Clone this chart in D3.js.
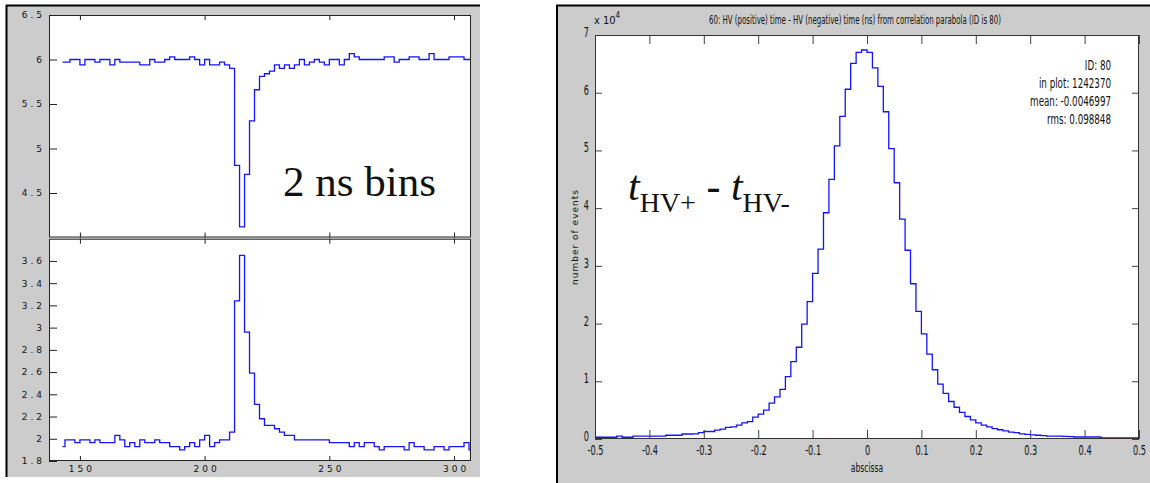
<!DOCTYPE html>
<html>
<head>
<meta charset="utf-8">
<script src="https://cdn.jsdelivr.net/npm/d3@7"></script>
<style>
  body { margin: 0; background: #fff; }
  svg { display: block; }
  .lt { font-family: "DejaVu Sans", sans-serif; font-size: 9px; letter-spacing: 3px; fill: #111; }
  .nt { font-family: "Liberation Sans Narrow", "DejaVu Sans Condensed", "Arial Narrow", sans-serif; font-stretch: condensed; fill: #111; }
</style>
</head>
<body>
<div id="chart"></div>
<script>
// ---- left figure: two stacked 2 ns histograms (bin left edges 143,144,146,...,306) ----
const leftTopValues = [
  5.97, 5.97, 6.00, 6.00, 5.94, 6.00, 6.00, 5.97, 6.00, 6.00,
  5.94, 6.00, 5.97, 5.97, 5.97, 5.97, 5.94, 5.94, 6.00, 5.97,
  5.97, 6.00, 6.03, 6.00, 6.00, 6.00, 6.03, 6.00, 5.94, 6.00,
  5.94, 5.94, 5.97, 5.94, 5.90, 4.81, 4.12, 4.71, 5.31, 5.66,
  5.81, 5.84, 5.87, 5.94, 5.90, 5.94, 5.90, 5.94, 6.00, 5.94,
  5.97, 6.00, 5.97, 5.94, 6.00, 6.00, 5.94, 6.00, 6.065, 6.03,
  6.00, 6.00, 6.00, 6.00, 6.00, 6.03, 6.03, 5.97, 6.00, 6.00,
  6.03, 6.03, 6.00, 6.00, 6.065, 6.00, 6.00, 6.00, 6.03, 6.03,
  6.03, 6.00, 6.00
];
const leftBottomValues = [
  1.93, 1.99, 1.99, 1.965, 1.99, 1.99, 1.965, 1.99, 1.965, 1.965,
  1.965, 2.03, 1.99, 1.93, 1.965, 1.93, 1.99, 1.965, 1.965, 1.99,
  1.965, 1.965, 1.93, 1.93, 1.90, 1.93, 1.965, 1.93, 1.99, 2.03,
  1.93, 1.965, 1.99, 1.99, 2.06, 3.24, 3.65, 2.96, 2.59, 2.31,
  2.18, 2.12, 2.12, 2.09, 2.06, 2.03, 2.03, 1.99, 1.99, 1.99,
  1.99, 1.99, 1.99, 1.99, 1.965, 1.965, 1.965, 1.965, 1.93, 1.965,
  1.93, 1.965, 1.965, 1.93, 1.90, 1.93, 1.93, 1.93, 1.93, 1.90,
  1.965, 1.93, 1.93, 1.90, 1.90, 1.93, 1.93, 1.90, 1.93, 1.93,
  1.93, 1.965, 1.90
];
const leftXTicks = [150, 200, 250, 300];
const leftTopYTicks = [4.5, 5, 5.5, 6, 6.5];
const leftBottomYTicks = [1.8, 2, 2.2, 2.4, 2.6, 2.8, 3, 3.2, 3.4, 3.6];
const leftLabel = "2 ns bins";

// ---- right figure: t(HV+) - t(HV-) histogram, counts in units of 1e4, 0.01 bins from -0.5 ----
const rightValues = [
  0.03, 0.03, 0.03, 0.03, 0.05, 0.03, 0.03, 0.05, 0.05, 0.05,
  0.05, 0.05, 0.05, 0.065, 0.065, 0.065, 0.087, 0.087, 0.09, 0.11,
  0.13, 0.13, 0.155, 0.17, 0.20, 0.21, 0.24, 0.28, 0.30, 0.38,
  0.43, 0.50, 0.62, 0.73, 0.86, 1.08, 1.34, 1.59, 1.99, 2.38,
  2.87, 3.29, 3.92, 4.50, 5.08, 5.59, 6.06, 6.51, 6.70, 6.74,
  6.70, 6.43, 6.11, 5.67, 5.03, 4.44, 3.81, 3.27, 2.69, 2.21,
  1.82, 1.47, 1.20, 0.95, 0.79, 0.65, 0.55, 0.46, 0.39, 0.33,
  0.28, 0.24, 0.21, 0.18, 0.16, 0.14, 0.12, 0.11, 0.09, 0.08,
  0.07, 0.065, 0.06, 0.05, 0.05, 0.05, 0.045, 0.04, 0.035, 0.035,
  0.035, 0.035, 0.035, 0.02, 0.02, 0.02, 0.02, 0.02, 0.02, 0.02
];
const rightXTicks = [-0.5, -0.4, -0.3, -0.2, -0.1, 0, 0.1, 0.2, 0.3, 0.4, 0.5];
const rightYTicks = [0, 1, 2, 3, 4, 5, 6, 7];
const rightTitle = "60:  HV (positive) time - HV (negative) time (ns) from correlation parabola  (ID is  80)";
const rightStats = ["ID: 80", "in plot:  1242370", "mean: -0.0046997", "rms:  0.098848"];
const rightXLabel = "abscissa";
const rightYLabel = "number of events";

const width = 1150, height = 483;
const gray = "#cccccc", blue = "#1414ff";

const svg = d3.select("#chart").append("svg")
    .attr("width", width)
    .attr("height", height);

svg.append("rect").attr("width", width).attr("height", height).attr("fill", "#fff");

// bin edges (positions only)
const leftEdges = [143].concat(d3.range(144, 307, 2));
const leftEnd = 308;
const rightEdges = d3.range(100).map(i => (i - 50) / 100);
const rightEnd = 0.5;

function stairs(values, edges, end) {
    const pts = values.map((v, i) => [edges[i], v]);
    pts.push([end, values[values.length - 1]]);
    return pts;
}

// squeeze a text horizontally around its anchor, the plots use a narrow font
function narrow(sel, k) {
    sel.each(function() {
        const x = +this.getAttribute("x") || 0;
        d3.select(this).attr("transform", `translate(${x},0) scale(${k},1) translate(${-x},0)`);
    });
}

// ================= LEFT FIGURE =================
svg.append("rect").attr("x", 6).attr("y", 5).attr("width", 474).attr("height", 472).attr("fill", gray);
svg.append("line").attr("x1", 6.5).attr("x2", 6.5).attr("y1", 5).attr("y2", 477).attr("stroke", "#000").attr("stroke-width", 2);
svg.append("line").attr("x1", 6).attr("x2", 480).attr("y1", 5.5).attr("y2", 5.5).attr("stroke", "#000").attr("stroke-width", 2);

const xL = d3.scaleLinear().domain([137.6, 306.8]).range([49, 471]);
const yTop = d3.scaleLinear().domain([4, 6.5]).range([237.5, 15]);
const yBot = d3.scaleLinear().domain([1.8, 3.8]).range([461, 238.7]);

function leftPanel(y, values, yTicks, id, showXLabels) {
    const [y0, y1] = y.range();
    const g = svg.append("g");
    g.append("clipPath").attr("id", id)
        .append("rect").attr("x", xL.range()[0]).attr("y", y1)
        .attr("width", xL.range()[1] - xL.range()[0]).attr("height", y0 - y1);
    g.append("rect")
        .attr("x", xL.range()[0]).attr("y", y1)
        .attr("width", xL.range()[1] - xL.range()[0]).attr("height", y0 - y1)
        .attr("fill", "#fff");

    const line = d3.line().curve(d3.curveStepAfter).x(d => xL(d[0])).y(d => y(d[1]));
    g.append("path")
        .datum(stairs(values, leftEdges, leftEnd))
        .attr("clip-path", `url(#${id})`)
        .attr("fill", "none")
        .attr("stroke", blue)
        .attr("stroke-width", 1.3)
        .attr("d", line);

    // inward ticks
    g.append("g").attr("transform", `translate(${xL.range()[0]},0)`)
        .call(d3.axisRight(y).tickValues(yTicks).tickSize(8).tickFormat(""))
        .call(a => a.select(".domain").remove());
    g.append("g").attr("transform", `translate(0,${y1})`)
        .call(d3.axisBottom(xL).tickValues(leftXTicks).tickSize(5).tickFormat(""))
        .call(a => a.select(".domain").remove());
    g.append("g").attr("transform", `translate(0,${y0})`)
        .call(d3.axisTop(xL).tickValues(leftXTicks).tickSize(5).tickFormat(""))
        .call(a => a.select(".domain").remove());
    g.selectAll(".tick line").attr("stroke", "#222");

    // labels
    g.append("g").attr("transform", `translate(${xL.range()[0] - 4},0)`)
        .call(d3.axisLeft(y).tickValues(yTicks).tickSize(0).tickPadding(0).tickFormat(d => String(d)))
        .call(a => a.select(".domain").remove())
        .selectAll("text").attr("class", "lt").attr("font-family", null).attr("font-size", null);
    if (showXLabels) {
        g.append("g").attr("transform", `translate(1.5,${y0 + 5})`)
            .call(d3.axisBottom(xL).tickValues(leftXTicks).tickSize(0).tickPadding(0).tickFormat(d => String(d)))
            .call(a => a.select(".domain").remove())
            .selectAll("text").attr("class", "lt").attr("font-family", null).attr("font-size", null);
    }

    g.append("rect")
        .attr("x", xL.range()[0] + 0.5).attr("y", y1 + 0.5)
        .attr("width", xL.range()[1] - xL.range()[0] - 1).attr("height", y0 - y1 - 1)
        .attr("fill", "none").attr("stroke", "#222").attr("stroke-width", 1);
    return g;
}

leftPanel(yTop, leftTopValues, leftTopYTicks, "clipTop", false);
leftPanel(yBot, leftBottomValues, leftBottomYTicks, "clipBot", true);

svg.append("text")
    .attr("x", 283).attr("y", 196)
    .attr("font-family", "Liberation Serif, Times New Roman, serif")
    .attr("font-size", 43)
    .attr("fill", "#111")
    .text(leftLabel);

// ================= RIGHT FIGURE =================
svg.append("rect").attr("x", 556).attr("y", 5).attr("width", 594).attr("height", 478).attr("fill", gray);
svg.append("line").attr("x1", 557).attr("x2", 557).attr("y1", 5).attr("y2", 483).attr("stroke", "#000").attr("stroke-width", 2);
svg.append("line").attr("x1", 556).attr("x2", 1150).attr("y1", 5.5).attr("y2", 5.5).attr("stroke", "#000").attr("stroke-width", 2);

const xR = d3.scaleLinear().domain([-0.5, 0.5]).range([595, 1139]);
const yR = d3.scaleLinear().domain([0, 7]).range([439, 35]);

const gR = svg.append("g");
gR.append("rect")
    .attr("x", xR.range()[0]).attr("y", yR.range()[1])
    .attr("width", xR.range()[1] - xR.range()[0]).attr("height", yR.range()[0] - yR.range()[1])
    .attr("fill", "#fff");

const lineR = d3.line().curve(d3.curveStepAfter).x(d => xR(d[0])).y(d => yR(d[1]));
gR.append("path")
    .datum(stairs(rightValues, rightEdges, rightEnd))
    .attr("fill", "none")
    .attr("stroke", blue)
    .attr("stroke-width", 1.3)
    .attr("d", lineR);

// inward ticks on all four sides
gR.append("g").attr("transform", `translate(${xR.range()[0]},0)`)
    .call(d3.axisRight(yR).tickValues(rightYTicks).tickSize(7).tickFormat(""));
gR.append("g").attr("transform", `translate(${xR.range()[1]},0)`)
    .call(d3.axisLeft(yR).tickValues(rightYTicks).tickSize(7).tickFormat(""));
gR.append("g").attr("transform", `translate(0,${yR.range()[1]})`)
    .call(d3.axisBottom(xR).tickValues(rightXTicks).tickSize(9).tickFormat(""));
gR.append("g").attr("transform", `translate(0,${yR.range()[0]})`)
    .call(d3.axisTop(xR).tickValues(rightXTicks).tickSize(9).tickFormat(""));
gR.selectAll(".domain").remove();
gR.selectAll(".tick line").attr("stroke", "#444");

// tick labels
gR.append("g").attr("transform", `translate(${xR.range()[0] - 6},-3)`)
    .call(d3.axisLeft(yR).tickValues(rightYTicks).tickSize(0).tickPadding(0).tickFormat(d => String(d)))
    .call(a => a.select(".domain").remove())
    .selectAll("text").attr("class", "nt yl").attr("font-family", null).attr("font-size", 14);
gR.append("g").attr("transform", `translate(0,${yR.range()[0] + 6})`)
    .call(d3.axisBottom(xR).tickValues(rightXTicks).tickSize(0).tickPadding(0).tickFormat(d => String(d)))
    .call(a => a.select(".domain").remove())
    .selectAll("text").attr("class", "nt xl").attr("font-family", null).attr("font-size", 14);

gR.append("rect")
    .attr("x", xR.range()[0] + 0.5).attr("y", yR.range()[1] + 0.5)
    .attr("width", xR.range()[1] - xR.range()[0] - 1).attr("height", yR.range()[0] - yR.range()[1] - 1)
    .attr("fill", "none").attr("stroke", "#333");

// exponent
const expo = gR.append("text").attr("x", 594).attr("y", 24)
    .attr("font-family", "DejaVu Sans Condensed, sans-serif").attr("font-size", 11).attr("fill", "#111");
expo.append("tspan").text("x 10");
expo.append("tspan").attr("dy", -6).attr("font-size", 8).text("4");

// title
gR.append("text").attr("class", "nt title")
    .attr("x", 855).attr("y", 24)
    .attr("text-anchor", "middle")
    .attr("font-size", 13)
    .text(rightTitle);

// axis titles
gR.append("text").attr("class", "nt xt")
    .attr("x", xR(0)).attr("y", 472)
    .attr("text-anchor", "middle")
    .attr("font-size", 13)
    .text(rightXLabel);
gR.append("text")
    .attr("transform", `translate(578,${yR(3.5)}) rotate(-90)`)
    .attr("text-anchor", "middle")
    .attr("font-family", "DejaVu Sans, sans-serif")
    .attr("font-size", 9)
    .attr("letter-spacing", 1)
    .attr("fill", "#111")
    .text(rightYLabel);

// stats box
gR.append("g").selectAll("text")
    .data(rightStats)
    .join("text")
    .attr("class", "nt st")
    .attr("x", 1111)
    .attr("y", (d, i) => 70 + i * 18)
    .attr("text-anchor", "end")
    .attr("font-size", 13.5)
    .text(d => d);

narrow(gR.selectAll("text.title"), 0.6);
narrow(gR.selectAll("text.st"), 0.72);
narrow(gR.selectAll("text.xl, text.yl, text.xt"), 0.65);

// t_HV+ - t_HV- annotation
const ann = gR.append("text")
    .attr("x", 628).attr("y", 200)
    .attr("font-family", "Liberation Serif, Times New Roman, serif")
    .attr("font-size", 42)
    .attr("fill", "#111");
ann.append("tspan").attr("font-style", "italic").text("t");
ann.append("tspan").attr("font-size", 28).attr("dy", 12).text("HV+");
ann.append("tspan").attr("dy", -12).text(" - ");
ann.append("tspan").attr("font-style", "italic").text("t");
ann.append("tspan").attr("font-size", 28).attr("dy", 12).text("HV-");
</script>
</body>
</html>
